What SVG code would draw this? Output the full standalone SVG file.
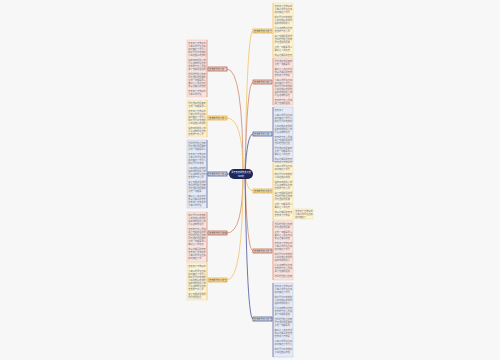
<svg xmlns="http://www.w3.org/2000/svg" width="500" height="360" viewBox="0 0 500 360">
<style>
.t{font-family:"Noto Sans CJK SC","Noto Sans",sans-serif;font-size:2.2px;fill:#6e6e6e}
.lb{font-family:"Noto Sans CJK SC","Noto Sans",sans-serif;font-size:2.2px;fill:#3a3a3a}
.bp{fill:#fae4e0;stroke:#eebbb1;stroke-width:0.5}
.by{fill:#fdf3d6;stroke:#f2d994;stroke-width:0.5}
.bb{fill:#e6eaf6;stroke:#b9c3e2;stroke-width:0.5}
.cr{fill:none;stroke:#d08a70;stroke-width:0.8}
.cy{fill:none;stroke:#f0c467;stroke-width:0.8}
.cb{fill:none;stroke:#47549a;stroke-width:0.8}
.nr{fill:#f6d8d0;stroke:#b5533c;stroke-width:0.7}
.ny{fill:#fbe7b0;stroke:#e2a92c;stroke-width:0.7}
.nb{fill:#dfe4f3;stroke:#3d4a8a;stroke-width:0.7}
</style>
<rect width="500" height="360" fill="#f7f7f7"/>
<g id="connectors">
<path class="cr" d="M243 174 Q243 69 227 69"/>
<path class="cy" d="M243 174 Q243 118 227 118"/>
<path class="cb" d="M238 174 L227 174"/>
<path class="cr" d="M243 174 Q243 233 227 233"/>
<path class="cy" d="M243 174 Q243 280 227 280"/>
<path class="cy" d="M245 174 Q247 31 253 31"/>
<path class="cr" d="M245 174 Q247 82 253 82"/>
<path class="cb" d="M245 174 Q247 134 253 134"/>
<path class="cy" d="M245 174 Q247 191 253 191"/>
<path class="cr" d="M245 174 Q247 251 253 251"/>
<path class="cb" d="M245 174 Q247 319 253 319"/>
<path class="cr" d="M227 69 L207 69"/>
<path class="cy" d="M227 118 L207 118"/>
<path class="cb" d="M227 174 L207 174"/>
<path class="cr" d="M227 233 L207 233"/>
<path class="cy" d="M227 280 L207 280"/>
<path class="cy" d="M293 213 L294 213"/>
</g>
<g id="center">
<rect x="229" y="169" width="24" height="10" rx="5" fill="#1e2659"/>
<text x="241" y="173.3" text-anchor="middle" class="lb" style="fill:#fff">关于春天的作文范文</text>
<text x="241" y="176.6" text-anchor="middle" class="lb" style="fill:#fff">600字</text>
</g>
<g id="L1">
<rect class="nr" x="208" y="67" width="19" height="4"/>
<text class="lb" x="209" y="69.8">春天的作文范文一</text>
<rect class="bp" x="187" y="40" width="20" height="57"/>
<line x1="207" y1="40" x2="207" y2="97" stroke="#d08a70" stroke-width="0.6"/>
<text class="t"><tspan x="188.3" y="43.5">春天来了万物复苏</tspan><tspan x="188.3" dy="3">小草从地里钻出来</tspan><tspan x="188.3" dy="3">柳树抽出了新芽儿</tspan><tspan x="188.3" dy="3">桃花开得红艳艳的</tspan><tspan x="188.3" dy="3">小鸟在枝头欢快地</tspan><tspan x="188.3" dy="5">唱着动听的歌儿我</tspan><tspan x="188.3" dy="3">们走进田野感受着</tspan><tspan x="188.3" dy="3">春天的气息心里充</tspan><tspan x="188.3" dy="3">满了无限的喜悦啊</tspan><tspan x="188.3" dy="5">微风轻轻吹过脸庞</tspan><tspan x="188.3" dy="3">阳光温暖地照耀着</tspan><tspan x="188.3" dy="3">大地一切都是那么</tspan><tspan x="188.3" dy="3">美好让人流连忘返</tspan><tspan x="188.3" dy="3">我爱这美丽的春天</tspan><tspan x="188.3" dy="5">春天来了万物复苏</tspan><tspan x="188.3" dy="3">小草从地里钻</tspan></text>
</g>
<g id="L2">
<rect class="ny" x="208" y="116" width="19" height="4"/>
<text class="lb" x="209" y="118.8">春天的作文范文二</text>
<rect class="by" x="187" y="100" width="20" height="37"/>
<line x1="207" y1="100" x2="207" y2="137" stroke="#f0c467" stroke-width="0.6"/>
<text class="t"><tspan x="188.3" y="103.5">阳光温暖地照耀着</tspan><tspan x="188.3" dy="3">大地一切都是那么</tspan><tspan x="188.3" dy="5">春天来了万物复苏</tspan><tspan x="188.3" dy="3">小草从地里钻出来</tspan><tspan x="188.3" dy="3">柳树抽出了新芽儿</tspan><tspan x="188.3" dy="3">桃花开得红艳艳的</tspan><tspan x="188.3" dy="3">小鸟在枝头欢快地</tspan><tspan x="188.3" dy="5">唱着动听的歌儿我</tspan><tspan x="188.3" dy="3">们走进田野感受着</tspan><tspan x="188.3" dy="3">春天的气息心里</tspan></text>
</g>
<g id="L3">
<rect class="nb" x="208" y="172" width="19" height="4"/>
<text class="lb" x="209" y="174.8">春天的作文范文三</text>
<rect class="bb" x="187" y="140" width="20" height="68"/>
<line x1="207" y1="140" x2="207" y2="208" stroke="#47549a" stroke-width="0.6"/>
<text class="t"><tspan x="188.3" y="143.5">微风轻轻吹过脸庞</tspan><tspan x="188.3" dy="3">阳光温暖地照耀着</tspan><tspan x="188.3" dy="3">大地一切都是那么</tspan><tspan x="188.3" dy="5">春天来了万物复苏</tspan><tspan x="188.3" dy="3">小草从地里钻出来</tspan><tspan x="188.3" dy="3">柳树抽出了新芽儿</tspan><tspan x="188.3" dy="3">桃花开得红艳艳</tspan><tspan x="188.3" dy="5">小鸟在枝头欢快地</tspan><tspan x="188.3" dy="3">唱着动听的歌儿我</tspan><tspan x="188.3" dy="3">们走进田野感受着</tspan><tspan x="188.3" dy="3">春天的气息心里</tspan><tspan x="188.3" dy="5">满了无限的喜悦啊</tspan><tspan x="188.3" dy="3">微风轻轻吹过脸庞</tspan><tspan x="188.3" dy="3">阳光温暖地照耀着</tspan><tspan x="188.3" dy="3">大地一切都是</tspan><tspan x="188.3" dy="5">美好让人流连忘返</tspan><tspan x="188.3" dy="3">我爱这美丽的春天</tspan><tspan x="188.3" dy="3">春天来了万物复苏</tspan><tspan x="188.3" dy="3">小草从地里钻</tspan></text>
</g>
<g id="L4">
<rect class="nr" x="208" y="231" width="19" height="4"/>
<text class="lb" x="209" y="233.8">春天的作文范文四</text>
<rect class="bp" x="187" y="212" width="20" height="50"/>
<line x1="207" y1="212" x2="207" y2="262" stroke="#d08a70" stroke-width="0.6"/>
<text class="t"><tspan x="188.3" y="215.5">桃花开得红艳艳的</tspan><tspan x="188.3" dy="3">小鸟在枝头欢快地</tspan><tspan x="188.3" dy="3">唱着动听的歌儿我</tspan><tspan x="188.3" dy="3">们走进田野感受</tspan><tspan x="188.3" dy="5">春天的气息心里充</tspan><tspan x="188.3" dy="3">满了无限的喜悦啊</tspan><tspan x="188.3" dy="3">微风轻轻吹过脸庞</tspan><tspan x="188.3" dy="3">阳光温暖地照耀着</tspan><tspan x="188.3" dy="3">大地一切都是那么</tspan><tspan x="188.3" dy="3">美好让人流连忘</tspan><tspan x="188.3" dy="5">我爱这美丽的春天</tspan><tspan x="188.3" dy="3">春天来了万物复苏</tspan><tspan x="188.3" dy="3">小草从地里钻出来</tspan><tspan x="188.3" dy="3">柳树抽出了新</tspan></text>
</g>
<g id="L5">
<rect class="ny" x="208" y="278" width="19" height="4"/>
<text class="lb" x="209" y="280.8">春天的作文范文五</text>
<rect class="by" x="187" y="263" width="20" height="37"/>
<line x1="207" y1="263" x2="207" y2="300" stroke="#f0c467" stroke-width="0.6"/>
<text class="t"><tspan x="188.3" y="266.5">春天来了万物复苏</tspan><tspan x="188.3" dy="5">小草从地里钻出来</tspan><tspan x="188.3" dy="3">柳树抽出了新芽儿</tspan><tspan x="188.3" dy="3">桃花开得红艳艳的</tspan><tspan x="188.3" dy="3">小鸟在枝头欢快地</tspan><tspan x="188.3" dy="3">唱着动听的歌儿我</tspan><tspan x="188.3" dy="3">们走进田野感受着</tspan><tspan x="188.3" dy="3">春天的气息心里</tspan><tspan x="188.3" dy="5">满了无限的喜悦啊</tspan><tspan x="188.3" dy="3">微风轻轻吹过</tspan></text>
</g>
<g id="R1">
<rect class="ny" x="253" y="29" width="19" height="4"/>
<text class="lb" x="254" y="31.8">春天的作文范文六</text>
<rect class="by" x="273" y="3" width="20" height="54"/>
<line x1="273" y1="3" x2="273" y2="57" stroke="#f0c467" stroke-width="0.6"/>
<text class="t"><tspan x="274.6" y="6.5">春天来了万物复苏</tspan><tspan x="274.6" dy="3">小草从地里钻出来</tspan><tspan x="274.6" dy="3">柳树抽出了新芽</tspan><tspan x="274.6" dy="5">桃花开得红艳艳的</tspan><tspan x="274.6" dy="3">小鸟在枝头欢快地</tspan><tspan x="274.6" dy="3">唱着动听的歌儿</tspan><tspan x="274.6" dy="5">们走进田野感受着</tspan><tspan x="274.6" dy="3">春天的气息心里</tspan><tspan x="274.6" dy="5">满了无限的喜悦啊</tspan><tspan x="274.6" dy="3">微风轻轻吹过脸庞</tspan><tspan x="274.6" dy="3">阳光温暖地照耀</tspan><tspan x="274.6" dy="5">大地一切都是那么</tspan><tspan x="274.6" dy="3">美好让人流连忘</tspan><tspan x="274.6" dy="5">我爱这美丽的春天</tspan></text>
</g>
<g id="R2">
<rect class="nr" x="253" y="80" width="19" height="4"/>
<text class="lb" x="254" y="82.8">春天的作文范文七</text>
<rect class="bp" x="273" y="58" width="20" height="47"/>
<line x1="273" y1="58" x2="273" y2="105" stroke="#d08a70" stroke-width="0.6"/>
<text class="t"><tspan x="274.6" y="61.5">阳光温暖地照耀着</tspan><tspan x="274.6" dy="3">大地一切都是那</tspan><tspan x="274.6" dy="5">美好让人流连忘返</tspan><tspan x="274.6" dy="3">我爱这美丽的春天</tspan><tspan x="274.6" dy="3">春天来了万物复</tspan><tspan x="274.6" dy="5">小草从地里钻出来</tspan><tspan x="274.6" dy="3">柳树抽出了新芽儿</tspan><tspan x="274.6" dy="3">桃花开得红艳艳的</tspan><tspan x="274.6" dy="3">小鸟在枝头欢快地</tspan><tspan x="274.6" dy="3">唱着动听的歌儿我</tspan><tspan x="274.6" dy="3">们走进田野感受</tspan><tspan x="274.6" dy="5">春天的气息心里充</tspan><tspan x="274.6" dy="3">满了无限的喜悦</tspan></text>
</g>
<g id="R3">
<rect class="nb" x="253" y="132" width="19" height="4"/>
<text class="lb" x="254" y="134.8">春天的作文范文八</text>
<rect class="bb" x="273" y="107" width="20" height="55"/>
<line x1="273" y1="107" x2="273" y2="162" stroke="#47549a" stroke-width="0.6"/>
<text class="t"><tspan x="274.6" y="110.5">春天来了</tspan><tspan x="274.6" dy="5">小草从地里钻出来</tspan><tspan x="274.6" dy="3">柳树抽出了新芽儿</tspan><tspan x="274.6" dy="3">桃花开得红艳艳的</tspan><tspan x="274.6" dy="5">小鸟在枝头欢快地</tspan><tspan x="274.6" dy="3">唱着动听的歌儿我</tspan><tspan x="274.6" dy="3">们走进田野感受</tspan><tspan x="274.6" dy="5">春天的气息心里充</tspan><tspan x="274.6" dy="3">满了无限的喜悦啊</tspan><tspan x="274.6" dy="3">微风轻轻吹过脸</tspan><tspan x="274.6" dy="5">阳光温暖地照耀着</tspan><tspan x="274.6" dy="3">大地一切都是那么</tspan><tspan x="274.6" dy="3">美好让人流连忘</tspan><tspan x="274.6" dy="5">我爱这美丽的春天</tspan><tspan x="274.6" dy="3">春天来了万物复苏</tspan></text>
</g>
<g id="R4">
<rect class="ny" x="253" y="189" width="19" height="4"/>
<text class="lb" x="254" y="191.8">春天的作文范文九</text>
<rect class="by" x="273" y="163" width="20" height="57"/>
<line x1="273" y1="163" x2="273" y2="220" stroke="#f0c467" stroke-width="0.6"/>
<text class="t"><tspan x="274.6" y="166.5">小草从地里钻出来</tspan><tspan x="274.6" dy="3">柳树抽出了新芽</tspan><tspan x="274.6" dy="5">桃花开得红艳艳的</tspan><tspan x="274.6" dy="3">小鸟在枝头欢快</tspan><tspan x="274.6" dy="5">唱着动听的歌儿我</tspan><tspan x="274.6" dy="3">们走进田野感受着</tspan><tspan x="274.6" dy="3">春天的气息心里</tspan><tspan x="274.6" dy="5">满了无限的喜悦啊</tspan><tspan x="274.6" dy="3">微风轻轻吹过脸庞</tspan><tspan x="274.6" dy="3">阳光温暖地照耀</tspan><tspan x="274.6" dy="5">大地一切都是那么</tspan><tspan x="274.6" dy="3">美好让人流连忘</tspan><tspan x="274.6" dy="5">我爱这美丽的春天</tspan><tspan x="274.6" dy="3">春天来了万物复</tspan></text>
</g>
<g id="R4a">
<rect class="by" x="294" y="209" width="19" height="10"/>
<text class="t"><tspan x="295.3" y="212.3">春天来了万物复苏</tspan><tspan x="295.3" dy="3">小草从地里钻出来</tspan><tspan x="295.3" dy="3">柳树抽出了</tspan></text>
</g>
<g id="R5">
<rect class="nr" x="253" y="249" width="19" height="4"/>
<text class="lb" x="254" y="251.8">春天的作文范文十</text>
<rect class="bp" x="273" y="221" width="20" height="59"/>
<line x1="273" y1="221" x2="273" y2="280" stroke="#d08a70" stroke-width="0.6"/>
<text class="t"><tspan x="274.6" y="224.5">微风轻轻吹过脸庞</tspan><tspan x="274.6" dy="3">阳光温暖地照耀</tspan><tspan x="274.6" dy="5">大地一切都是那么</tspan><tspan x="274.6" dy="3">美好让人流连忘返</tspan><tspan x="274.6" dy="3">我爱这美丽的春</tspan><tspan x="274.6" dy="5">春天来了万物复苏</tspan><tspan x="274.6" dy="3">小草从地里钻出来</tspan><tspan x="274.6" dy="3">柳树抽出了新芽</tspan><tspan x="274.6" dy="5">桃花开得红艳艳的</tspan><tspan x="274.6" dy="3">小鸟在枝头欢快地</tspan><tspan x="274.6" dy="3">唱着动听的歌儿</tspan><tspan x="274.6" dy="5">们走进田野感受着</tspan><tspan x="274.6" dy="3">春天的气息心里充</tspan><tspan x="274.6" dy="3">满了无限的喜悦</tspan><tspan x="274.6" dy="5">微风轻轻吹过脸庞</tspan></text>
</g>
<g id="R6">
<rect class="nb" x="253" y="317" width="19" height="4"/>
<text class="lb" x="254" y="319.8">春天的作文范文十一</text>
<rect class="bb" x="273" y="283" width="20" height="74"/>
<line x1="273" y1="283" x2="273" y2="357" stroke="#47549a" stroke-width="0.6"/>
<text class="t"><tspan x="274.6" y="286.5">春天来了万物复苏</tspan><tspan x="274.6" dy="3">小草从地里钻出来</tspan><tspan x="274.6" dy="3">柳树抽出了新芽</tspan><tspan x="274.6" dy="5">桃花开得红艳艳的</tspan><tspan x="274.6" dy="3">小鸟在枝头欢快地</tspan><tspan x="274.6" dy="3">唱着动听的歌儿</tspan><tspan x="274.6" dy="5">们走进田野感受着</tspan><tspan x="274.6" dy="3">春天的气息心里充</tspan><tspan x="274.6" dy="3">满了无限的喜悦</tspan><tspan x="274.6" dy="5">微风轻轻吹过脸庞</tspan><tspan x="274.6" dy="3">阳光温暖地照耀着</tspan><tspan x="274.6" dy="3">大地一切都是那</tspan><tspan x="274.6" dy="5">美好让人流连忘返</tspan><tspan x="274.6" dy="3">我爱这美丽的春天</tspan><tspan x="274.6" dy="3">春天来了万物复</tspan><tspan x="274.6" dy="5">小草从地里钻出来</tspan><tspan x="274.6" dy="3">柳树抽出了新芽儿</tspan><tspan x="274.6" dy="5">桃花开得红艳艳的</tspan><tspan x="274.6" dy="3">小鸟在枝头欢快</tspan></text>
</g>
</svg>
